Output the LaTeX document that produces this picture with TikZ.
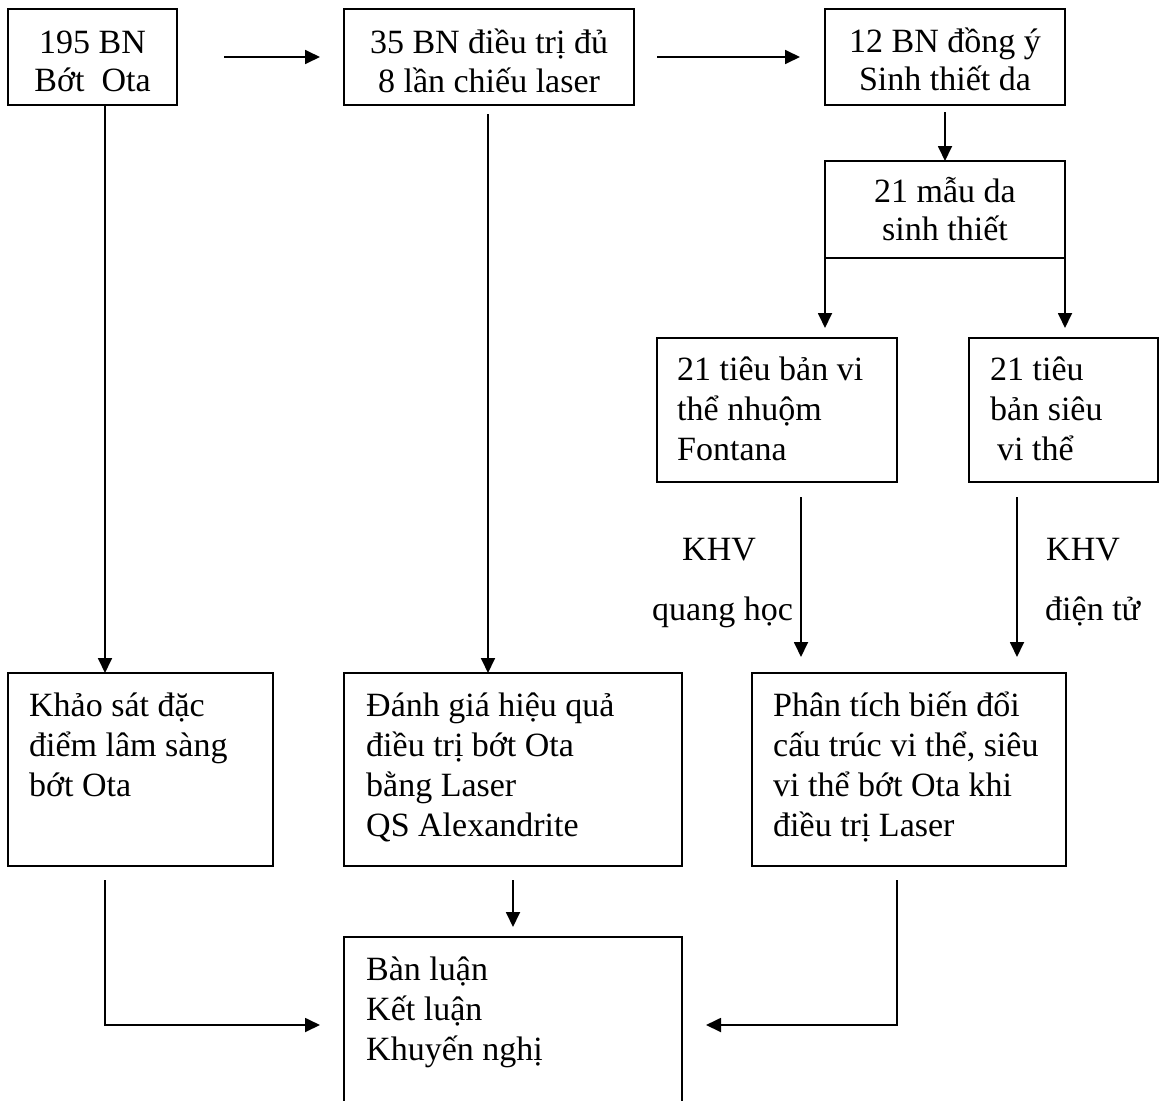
\documentclass[tikz,border=0pt]{standalone}
\usepackage{fontspec}
\setmainfont{Liberation Serif}
\usetikzlibrary{arrows.meta}
\begin{document}
\begin{tikzpicture}[x=1pt,y=-1pt,
  box/.style={draw, line width=1.8pt, rectangle, inner sep=0pt, outer sep=0pt, anchor=north west},
  txt/.style={inner sep=0pt, font=\fontsize{34}{39}\selectfont},
  tc/.style={txt, anchor=base},
  tl/.style={txt, anchor=base west},
  arr/.style={line width=1.8pt, -{Triangle[length=15pt,width=14pt]}}]
\path[use as bounding box, clip] (0,0) rectangle (1160,1101);
% boxes
\node[box, minimum width=169pt, minimum height=96pt] (b1) at (8,9) {};
\node[box, minimum width=290pt, minimum height=96pt] (b2) at (344,9) {};
\node[box, minimum width=240pt, minimum height=96pt] (b3) at (825,9) {};
\node[box, minimum width=240pt, minimum height=97pt] (b4) at (825,161) {};
\node[box, minimum width=240pt, minimum height=144pt] (b5) at (657,338) {};
\node[box, minimum width=189pt, minimum height=144pt] (b6) at (969,338) {};
\node[box, minimum width=265pt, minimum height=193pt] (b7) at (8,673) {};
\node[box, minimum width=338pt, minimum height=193pt] (b8) at (344,673) {};
\node[box, minimum width=314pt, minimum height=193pt] (b9) at (752,673) {};
\node[box, minimum width=338pt, minimum height=220pt] (b10) at (344,937) {};
% texts
\node[tc] (t1a) at (92.5,53) {195 BN};
\node[tc] (t1b) at (92.5,91) {Bớt~ Ota};
\node[tc] (t2a) at (489,53) {35 BN điều trị đủ};
\node[tc] (t2b) at (489,92) {8 lần chiếu laser};
\node[tc] (t3a) at (945,52) {12 BN đồng ý};
\node[tc] (t3b) at (945,90) {Sinh thiết da};
\node[tc] (t4a) at (945,202) {21 mẫu da};
\node[tc] (t4b) at (945,240) {sinh thiết};
\node[tl] (t5a) at (677,380) {21 tiêu bản vi};
\node[tl] (t5b) at (677,420) {thể nhuộm};
\node[tl] (t5c) at (677,460) {Fontana};
\node[tl] (t6a) at (990,380) {21 tiêu};
\node[tl] (t6b) at (990,420) {bản siêu};
\node[tl] (t6c) at (997,460) {vi thể};
\node[tl] (t7a) at (29,716) {Khảo sát đặc};
\node[tl] (t7b) at (29,756) {điểm lâm sàng};
\node[tl] (t7c) at (29,796) {bớt Ota};
\node[tl] (t8a) at (366,716) {Đánh giá hiệu quả};
\node[tl] (t8b) at (366,756) {điều trị bớt Ota};
\node[tl] (t8c) at (366,796) {bằng Laser};
\node[tl] (t8d) at (366,836) {QS Alexandrite};
\node[tl] (t9a) at (773,716) {Phân tích biến đổi};
\node[tl] (t9b) at (773,756) {cấu trúc vi thể, siêu};
\node[tl] (t9c) at (773,796) {vi thể bớt Ota khi};
\node[tl] (t9d) at (773,836) {điều trị Laser};
\node[tl] (t10a) at (366,980) {Bàn luận};
\node[tl] (t10b) at (366,1020) {Kết luận};
\node[tl] (t10c) at (366,1060) {Khuyến nghị};
% arrow labels
\node[tl] (k1a) at (682,560) {KHV};
\node[tl] (k1b) at (652,620) {quang học};
\node[tl] (k2a) at (1046,560) {KHV};
\node[tl] (k2b) at (1045,620) {điện tử};
% connectors
\draw[arr, shorten <=47pt, shorten >=24pt] (b1.east) -- (b2.west);
\draw[arr, shorten <=23pt, shorten >=25pt] (b2.east) -- (b3.west);
\draw[arr, shorten <=7pt] (b3.south) -- (b4.north);
\draw[arr, shorten >=10pt] (b4.south west) -- (b4.south west |- b5.north);
\draw[arr, shorten >=10pt] (b4.south east) -- (b4.south east |- b6.north);
\coordinate (x1) at (105,0);
\coordinate (x2) at (488,0);
\coordinate (x3) at (801,0);
\coordinate (x4) at (1017,0);
\draw[arr] (b1.south -| x1) -- (b7.north -| x1);
\draw[arr, shorten <=9pt] (b2.south -| x2) -- (b8.north -| x2);
\draw[arr, shorten <=15pt, shorten >=16pt] (b5.south -| x3) -- (b9.north -| x3);
\draw[arr, shorten <=15pt, shorten >=16pt] (b6.south -| x4) -- (b9.north -| x4);
\draw[arr, shorten <=14pt, shorten >=10pt] (b8.south) -- (b10.north);
\coordinate (L1) at (105,1025);
\coordinate (R1) at (897,1025);
\draw[arr, shorten <=14pt, shorten >=24pt] (b7.south -| L1) |- (b10.west |- L1);
\draw[arr, shorten <=14pt, shorten >=24pt] (b9.south -| R1) |- (b10.east |- R1);
\end{tikzpicture}
\end{document}
